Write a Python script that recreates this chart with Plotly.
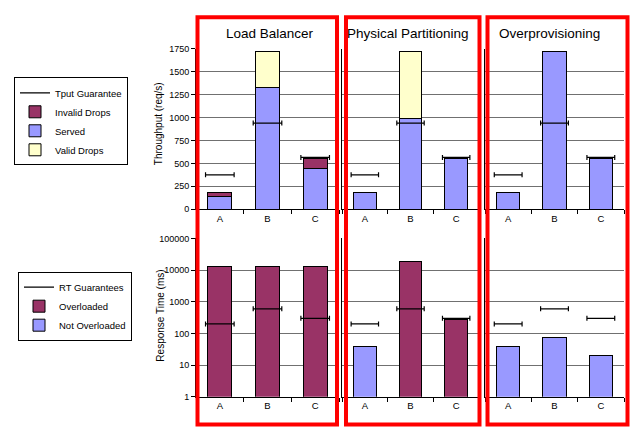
import plotly.graph_objects as go

# ---------------- data ----------------
categories = ["A", "B", "C"]
panels = ["Load Balancer", "Physical Partitioning", "Overprovisioning"]

# Throughput (req/s), stacked: Served, Invalid Drops, Valid Drops
served = {
    "Load Balancer": [142, 1330, 445],
    "Physical Partitioning": [183, 990, 558],
    "Overprovisioning": [183, 1722, 558],
}
invalid_drops = {
    "Load Balancer": [40, None, 113],
    "Physical Partitioning": [None, None, None],
    "Overprovisioning": [None, None, None],
}
valid_drops = {
    "Load Balancer": [None, 392, None],
    "Physical Partitioning": [None, 732, None],
    "Overprovisioning": [None, None, None],
}
tput_guarantee = [375, 940, 565]

# Response time (ms)
overloaded = {
    "Load Balancer": [13000, 13000, 13000],
    "Physical Partitioning": [None, 19000, 280],
    "Overprovisioning": [None, None, None],
}
not_overloaded = {
    "Load Balancer": [None, None, None],
    "Physical Partitioning": [40, None, None],
    "Overprovisioning": [40, 73, 20],
}
rt_guarantee = [200, 600, 300]

tput_ticks = [0, 250, 500, 750, 1000, 1250, 1500, 1750]
rt_ticks = [1, 10, 100, 1000, 10000, 100000]

# ---------------- style ----------------
C_SERVED = "#9999FF"
C_INVALID = "#993366"
C_VALID = "#FFFFCC"
FONT = "Liberation Sans, Arial, sans-serif"
W, H = 638, 432

x_idx = list(range(len(categories)))
boundaries = [i - 0.5 for i in range(len(categories) + 1)]

fig = go.Figure()

xdom = [(196 / W, 339 / W), (342 / W, 479 / W), (485 / W, 624 / W)]
ytop = (1 - 209 / H, 1 - 45 / H)
ybot = (1 - 401 / H, 1 - 239 / H)

bar_line = dict(color="black", width=1)
err = dict(type="data", array=[0.3] * len(categories), symmetric=True,
           thickness=1.2, width=2.5, color="black")

for i, p in enumerate(panels):
    first = i == 0
    xa, ya = f"x{i+1}", f"y{i+1}"
    xb, yb = f"x{i+4}", f"y{i+4}"
    # top: throughput
    fig.add_trace(go.Bar(x=x_idx, y=served[p], name="Served", xaxis=xa, yaxis=ya,
                         marker=dict(color=C_SERVED, line=bar_line), legend="legend",
                         legendgroup="served", showlegend=first, legendrank=3))
    fig.add_trace(go.Bar(x=x_idx, y=invalid_drops[p], name="Invalid Drops", xaxis=xa, yaxis=ya,
                         marker=dict(color=C_INVALID, line=bar_line), legend="legend",
                         legendgroup="invalid", showlegend=first, legendrank=2))
    fig.add_trace(go.Bar(x=x_idx, y=valid_drops[p], name="Valid Drops", xaxis=xa, yaxis=ya,
                         marker=dict(color=C_VALID, line=bar_line), legend="legend",
                         legendgroup="valid", showlegend=first, legendrank=4))
    fig.add_trace(go.Scatter(x=x_idx, y=tput_guarantee, mode="markers", xaxis=xa, yaxis=ya,
                             marker=dict(size=1, color="black", opacity=0), error_x=err,
                             showlegend=False, hoverinfo="skip"))
    # bottom: response time
    fig.add_trace(go.Bar(x=x_idx, y=not_overloaded[p], name="Not Overloaded", xaxis=xb, yaxis=yb,
                         marker=dict(color=C_SERVED, line=bar_line), legend="legend2",
                         legendgroup="notover", showlegend=first, legendrank=3))
    fig.add_trace(go.Bar(x=x_idx, y=overloaded[p], name="Overloaded", xaxis=xb, yaxis=yb,
                         marker=dict(color=C_INVALID, line=bar_line), legend="legend2",
                         legendgroup="over", showlegend=first, legendrank=2))
    fig.add_trace(go.Scatter(x=x_idx, y=rt_guarantee, mode="markers", xaxis=xb, yaxis=yb,
                             marker=dict(size=1, color="black", opacity=0), error_x=err,
                             showlegend=False, hoverinfo="skip"))

# legend-only entries for guarantee lines
fig.add_trace(go.Scatter(x=[None], y=[None], mode="lines", name="Tput Guarantee", xaxis="x1", yaxis="y1",
                         line=dict(color="black", width=1.2), legend="legend", legendrank=1))
fig.add_trace(go.Scatter(x=[None], y=[None], mode="lines", name="RT Guarantees", xaxis="x4", yaxis="y4",
                         line=dict(color="black", width=1.2), legend="legend2", legendrank=1))

layout = dict(
    width=W, height=H, autosize=False,
    margin=dict(l=0, r=0, t=0, b=0),
    paper_bgcolor="white", plot_bgcolor="white",
    barmode="stack", bargap=0.5,
    font=dict(family=FONT, size=9, color="black"),
    legend=dict(x=14 / W, y=1 - 74 / H, xanchor="left", yanchor="top", bgcolor="white",
                bordercolor="black", borderwidth=1, traceorder="normal",
                font=dict(size=9.5, family=FONT), itemwidth=30, tracegroupgap=0),
    legend2=dict(x=18 / W, y=1 - 273 / H, xanchor="left", yanchor="top", bgcolor="white",
                 bordercolor="black", borderwidth=1, traceorder="normal",
                 font=dict(size=9.5, family=FONT), itemwidth=30, tracegroupgap=0),
)

grid = "#707070"
for i in range(3):
    for row in range(2):
        n = i + 1 + 3 * row
        suffix = "" if n == 1 else str(n)
        layout["xaxis" + suffix] = dict(
            domain=xdom[i], anchor="y" + (str(n) if n > 1 else ""),
            range=[boundaries[0], boundaries[-1]],
            tickvals=x_idx, ticktext=categories, ticks="",
            minor=dict(tickvals=boundaries, ticks="outside", ticklen=4, tickcolor="black",
                       showgrid=False),
            showline=True, linecolor="black", linewidth=1, showgrid=False,
            zeroline=False, fixedrange=True,
            tickfont=dict(size=9.5, family=FONT),
        )
        yax = dict(
            domain=ytop if row == 0 else ybot, anchor="x" + (str(n) if n > 1 else ""),
            showline=True, linecolor="black", linewidth=1,
            showgrid=True, gridcolor=grid, gridwidth=1, zeroline=False, fixedrange=True,
            tickfont=dict(size=9, family=FONT),
        )
        if row == 0:
            yax.update(range=[0, 1750], tickvals=tput_ticks)
        else:
            yax.update(type="log", range=[0, 5], tickvals=rt_ticks,
                       ticktext=[str(v) for v in rt_ticks])
        if i == 0:
            yax.update(ticks="outside", ticklen=4, tickcolor="black", showticklabels=True)
        else:
            yax.update(ticks="", showticklabels=False)
        layout["yaxis" + suffix] = yax

fig.update_layout(**layout)

# panel titles
title_x = [270, 408, 549]
for t, xc in zip(panels, title_x):
    fig.add_annotation(text=t, x=xc / W, y=1 - 29 / H, xref="paper", yref="paper",
                       showarrow=False, font=dict(size=13.5, family=FONT, color="black"),
                       xanchor="center", yanchor="middle")

# axis titles
fig.add_annotation(text="Throughput (req/s)", x=158 / W, y=1 - 122 / H, xref="paper", yref="paper",
                   showarrow=False, textangle=-90, font=dict(size=10, family=FONT),
                   xanchor="center", yanchor="middle")
fig.add_annotation(text="Response Time (ms)", x=161 / W, y=1 - 318 / H, xref="paper", yref="paper",
                   showarrow=False, textangle=-90, font=dict(size=10, family=FONT),
                   xanchor="center", yanchor="middle")

# red highlight boxes
boxes = [(197.5, 337), (346, 479.5), (487.5, 627.5)]
for x0, x1 in boxes:
    fig.add_shape(type="rect", xref="paper", yref="paper",
                  x0=x0 / W, x1=x1 / W, y0=1 - 429.5 / H, y1=1 - 12.5 / H,
                  line=dict(color="#FF0000", width=4), fillcolor="rgba(0,0,0,0)", layer="above")

fig.write_html("out.html")
